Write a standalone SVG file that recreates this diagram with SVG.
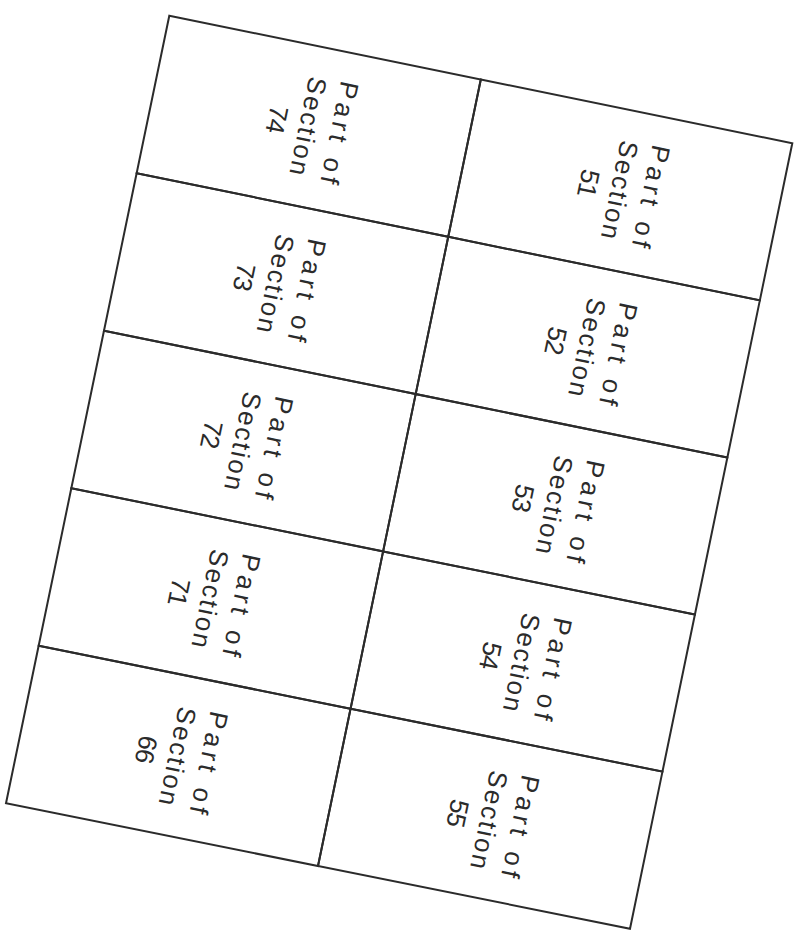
<svg xmlns="http://www.w3.org/2000/svg" width="804" height="932" viewBox="0 0 804 932">
<style>
.cell{fill:none;stroke:#2b2b2b;stroke-width:2;stroke-linejoin:miter}
.lbl{font-family:"Liberation Sans",Arial,sans-serif;font-size:26px;fill:#2b2b2b;text-anchor:middle}
</style>
<defs>
<g id="lines">
</g>
</defs>
<rect width="804" height="932" fill="#ffffff"/>
<g id="connectors"></g>
<g id="cell51">
<polygon class="cell" points="480.8,79.5 792.3,143.3 759.84,300.38 448.24,236.8"/>
<g transform="translate(620.2,190.2) rotate(101.7)"><text class="lbl" y="-22.5" textLength="104" lengthAdjust="spacing">Part of</text><text class="lbl" y="9.5" textLength="100" lengthAdjust="spacing">Section</text><text class="lbl" y="41.5" textLength="28" lengthAdjust="spacing">51</text></g>
</g>
<g id="cell52">
<polygon class="cell" points="448.24,236.8 759.84,300.38 727.38,457.46 415.68,394.1"/>
<g transform="translate(587.6,347.7) rotate(101.7)"><text class="lbl" y="-22.5" textLength="104" lengthAdjust="spacing">Part of</text><text class="lbl" y="9.5" textLength="100" lengthAdjust="spacing">Section</text><text class="lbl" y="41.5" textLength="28" lengthAdjust="spacing">52</text></g>
</g>
<g id="cell53">
<polygon class="cell" points="415.68,394.1 727.38,457.46 694.92,614.54 383.12,551.4"/>
<g transform="translate(554.9,505.2) rotate(101.7)"><text class="lbl" y="-22.5" textLength="104" lengthAdjust="spacing">Part of</text><text class="lbl" y="9.5" textLength="100" lengthAdjust="spacing">Section</text><text class="lbl" y="41.5" textLength="28" lengthAdjust="spacing">53</text></g>
</g>
<g id="cell54">
<polygon class="cell" points="383.12,551.4 694.92,614.54 662.46,771.62 350.56,708.7"/>
<g transform="translate(522.2,662.7) rotate(101.7)"><text class="lbl" y="-22.5" textLength="104" lengthAdjust="spacing">Part of</text><text class="lbl" y="9.5" textLength="100" lengthAdjust="spacing">Section</text><text class="lbl" y="41.5" textLength="28" lengthAdjust="spacing">54</text></g>
</g>
<g id="cell55">
<polygon class="cell" points="350.56,708.7 662.46,771.62 630,928.7 318,866"/>
<g transform="translate(489.6,820.2) rotate(101.7)"><text class="lbl" y="-22.5" textLength="104" lengthAdjust="spacing">Part of</text><text class="lbl" y="9.5" textLength="100" lengthAdjust="spacing">Section</text><text class="lbl" y="41.5" textLength="28" lengthAdjust="spacing">55</text></g>
</g>
<g id="cell74">
<polygon class="cell" points="169.3,15.7 480.8,79.5 448.24,236.8 136.64,173.22"/>
<g transform="translate(308.7,126.4) rotate(101.7)"><text class="lbl" y="-22.5" textLength="104" lengthAdjust="spacing">Part of</text><text class="lbl" y="9.5" textLength="100" lengthAdjust="spacing">Section</text><text class="lbl" y="41.5" textLength="28" lengthAdjust="spacing">74</text></g>
</g>
<g id="cell73">
<polygon class="cell" points="136.64,173.22 448.24,236.8 415.68,394.1 103.98,330.74"/>
<g transform="translate(276.1,283.9) rotate(101.7)"><text class="lbl" y="-22.5" textLength="104" lengthAdjust="spacing">Part of</text><text class="lbl" y="9.5" textLength="100" lengthAdjust="spacing">Section</text><text class="lbl" y="41.5" textLength="28" lengthAdjust="spacing">73</text></g>
</g>
<g id="cell72">
<polygon class="cell" points="103.98,330.74 415.68,394.1 383.12,551.4 71.32,488.26"/>
<g transform="translate(243.4,441.4) rotate(101.7)"><text class="lbl" y="-22.5" textLength="104" lengthAdjust="spacing">Part of</text><text class="lbl" y="9.5" textLength="100" lengthAdjust="spacing">Section</text><text class="lbl" y="41.5" textLength="28" lengthAdjust="spacing">72</text></g>
</g>
<g id="cell71">
<polygon class="cell" points="71.32,488.26 383.12,551.4 350.56,708.7 38.66,645.78"/>
<g transform="translate(210.7,598.9) rotate(101.7)"><text class="lbl" y="-22.5" textLength="104" lengthAdjust="spacing">Part of</text><text class="lbl" y="9.5" textLength="100" lengthAdjust="spacing">Section</text><text class="lbl" y="41.5" textLength="28" lengthAdjust="spacing">71</text></g>
</g>
<g id="cell66">
<polygon class="cell" points="38.66,645.78 350.56,708.7 318,866 6,803.3"/>
<g transform="translate(178.1,756.4) rotate(101.7)"><text class="lbl" y="-22.5" textLength="104" lengthAdjust="spacing">Part of</text><text class="lbl" y="9.5" textLength="100" lengthAdjust="spacing">Section</text><text class="lbl" y="41.5" textLength="28" lengthAdjust="spacing">66</text></g>
</g>
</svg>
